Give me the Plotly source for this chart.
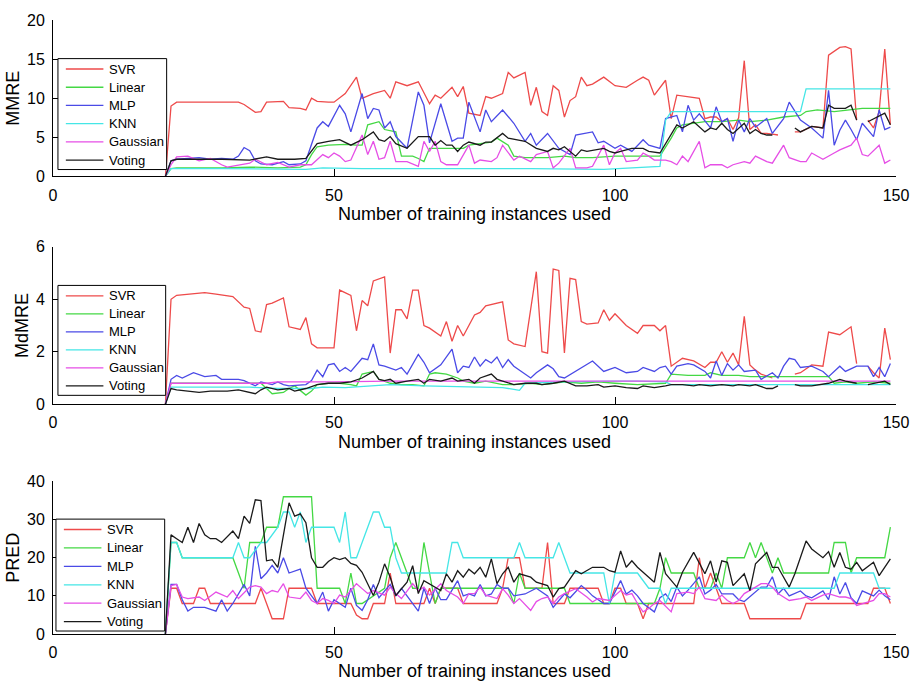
import plotly.graph_objects as go

SERIES = ["SVR", "Linear", "MLP", "KNN", "Gaussian", "Voting"]
COLORS = ["#ee4a4a", "#44d844", "#4a4ae6", "#45e6e6", "#e64ee6", "#1a1a1a"]
X_TICKS = [0, 50, 100, 150]
MMRE_TICKS = [0, 5, 10, 15, 20]
MDMRE_TICKS = [0, 2, 4, 6]
PRED_TICKS = [0, 10, 20, 30, 40]
X_TITLE = "Number of training instances used"

# ---------- MMRE (x, value) ----------
MMRE_SVR = [(20,0),(21,9.0),(22,9.5),(33,9.5),(34,9.2),(36,8.2),(37,8.3),(38,9.5),(41,9.6),(42,8.8),(44,8.7),(45,8.5),(46,10.0),(47,9.6),(49,9.5),(50,9.5),(52,10.6),(54,12.7),(55,10.0),(57,10.6),(59,11.0),(60,10.0),(61,12.1),(63,11.6),(65,12.1),(67,9.3),(68,10.4),(69,10.0),(71,11.4),(72,10.2),(73,11.5),(74,8.1),(76,7.8),(77,10.2),(78,10.0),(80,10.6),(81,13.3),(82,12.6),(84,13.3),(85,9.1),(86,11.4),(87,8.3),(88,7.8),(89,11.6),(90,11.0),(91,7.6),(92,9.7),(93,10.2),(94,12.7),(95,11.6),(96,11.8),(98,12.7),(100,11.6),(102,11.4),(104,12.3),(105,12.7),(106,12.3),(107,10.4),(109,12.3),(110,7.4),(111,10.4),(113,10.2),(115,10.0),(116,7.4),(117,7.6),(118,7.6),(119,7.0),(120,7.4),(121,6.0),(122,7.5),(123,14.8),(124,6.0),(125,6.6),(126,5.5),(127,5.5),(128,5.4),(129,5.3),(130,None),(132,5.7),(133,5.7),(135,6.4),(137,6.2),(138,15.5),(140,16.5),(141,16.6),(142,16.3),(143,7.2),(144,None),(145,7.2),(146,6.2),(147,8.3),(148,16.3),(149,6.6)]
MMRE_LINEAR = [(20,0),(21,1.0),(22,1.1),(30,1.1),(35,1.2),(40,1.1),(44,1.2),(45,1.5),(46,2.8),(47,3.8),(49,4.0),(52,4.1),(54,4.0),(55,4.0),(56,6.6),(58,7.0),(59,6.0),(61,5.7),(62,2.6),(64,2.6),(65,2.3),(66,1.9),(67,3.6),(70,3.6),(73,3.6),(74,4.0),(76,4.2),(78,4.4),(79,4.9),(81,4.0),(82,2.6),(84,2.4),(88,2.4),(91,2.6),(93,2.4),(96,2.4),(100,2.6),(105,2.6),(108,2.6),(110,4.9),(111,6.2),(112,6.6),(116,7.0),(119,7.0),(122,7.2),(124,7.0),(127,7.2),(130,7.6),(133,7.8),(134,8.3),(136,8.5),(139,8.3),(142,8.5),(144,8.7),(149,8.7)]
MMRE_MLP = [(20,0),(21,2.0),(22,2.2),(24,2.3),(26,2.4),(28,2.2),(30,2.3),(32,2.2),(33,2.6),(34,3.7),(35,3.3),(36,2.0),(37,1.6),(39,1.5),(41,1.9),(42,1.5),(44,1.6),(45,2.0),(46,4.0),(47,6.2),(48,7.0),(49,6.4),(51,9.1),(52,8.0),(53,5.7),(55,10.6),(56,7.4),(57,8.7),(58,8.5),(59,6.2),(60,7.0),(61,5.1),(63,3.6),(65,10.8),(66,9.1),(67,4.3),(69,9.3),(71,4.5),(72,4.9),(73,4.9),(74,9.5),(76,5.7),(77,8.5),(78,7.0),(80,8.5),(82,6.8),(84,4.5),(85,5.5),(86,4.0),(88,5.5),(90,3.6),(92,2.8),(93,5.3),(96,5.7),(97,4.3),(98,4.5),(100,3.6),(101,4.0),(103,3.2),(105,4.7),(106,4.0),(107,3.8),(108,3.6),(109,7.4),(111,7.8),(112,5.7),(113,9.1),(114,7.2),(115,8.0),(117,6.2),(118,8.9),(119,7.0),(120,7.4),(121,4.5),(122,7.2),(123,5.7),(124,7.4),(125,6.3),(127,7.4),(128,5.5),(130,7.4),(131,9.5),(133,7.2),(135,6.2),(137,4.9),(138,11.0),(139,4.0),(140,5.9),(141,7.2),(142,6.0),(143,4.7),(144,6.8),(146,5.1),(147,8.5),(148,6.0),(149,6.3)]
MMRE_KNN = [(20,0),(21,1.0),(30,1.0),(40,0.9),(45,0.9),(48,1.1),(55,1.0),(70,1.0),(85,1.0),(98,0.9),(104,1.1),(108,1.3),(109,7.2),(110,8.3),(133,8.3),(134,11.2),(149,11.2)]
MMRE_GAUSSIAN = [(20,0),(21,1.5),(22,2.5),(24,2.6),(26,2.0),(28,2.3),(30,1.5),(31,1.2),(35,1.7),(36,2.2),(38,1.5),(40,1.8),(42,1.2),(44,1.5),(46,1.5),(47,2.2),(48,2.8),(49,2.4),(50,3.0),(51,2.6),(52,1.9),(53,2.1),(55,5.3),(56,2.8),(57,4.5),(58,2.2),(59,2.4),(60,4.5),(61,1.9),(63,1.9),(65,1.3),(66,4.5),(67,3.2),(68,4.5),(69,1.9),(70,1.5),(72,1.5),(74,4.0),(75,1.7),(76,2.1),(78,1.9),(79,2.4),(80,4.0),(82,2.1),(83,2.6),(85,1.9),(86,2.8),(88,3.2),(89,1.1),(90,1.7),(92,3.6),(93,1.1),(95,1.1),(96,1.3),(98,4.0),(99,1.5),(100,3.0),(101,3.6),(102,1.9),(104,2.1),(105,3.0),(106,2.6),(107,2.1),(109,2.1),(110,1.9),(111,1.5),(112,2.6),(113,1.9),(115,4.5),(116,1.1),(117,1.5),(119,1.5),(120,1.1),(121,1.5),(123,1.9),(124,1.7),(125,2.6),(127,1.9),(128,1.7),(130,4.0),(131,2.4),(133,1.9),(134,1.9),(135,3.0),(137,2.2),(139,3.0),(140,3.4),(142,4.0),(143,4.9),(144,2.8),(145,2.6),(147,4.0),(148,1.7),(149,2.1)]
MMRE_VOTING = [(20,0),(21,2.0),(22,2.2),(30,2.2),(35,2.1),(38,2.5),(40,2.2),(43,2.2),(45,2.3),(46,3.3),(47,4.2),(49,4.5),(51,4.7),(53,4.0),(55,4.7),(57,5.7),(58,4.7),(59,4.5),(60,5.1),(61,4.2),(63,3.6),(65,5.1),(67,5.1),(68,4.0),(69,4.6),(70,4.0),(71,4.0),(72,3.2),(73,4.0),(74,4.4),(76,4.0),(77,4.4),(78,4.4),(80,5.5),(81,4.9),(84,4.5),(85,4.0),(86,3.6),(88,3.2),(89,3.6),(90,3.4),(91,3.8),(93,2.6),(94,3.4),(95,3.2),(98,3.6),(99,3.2),(100,3.0),(101,3.2),(103,3.6),(105,3.6),(106,3.2),(108,3.0),(111,6.6),(112,6.2),(114,7.0),(116,5.7),(117,6.2),(118,6.0),(119,6.8),(120,6.0),(121,5.5),(123,6.8),(124,5.5),(125,6.0),(126,5.5),(127,5.3),(128,5.3),(129,None),(132,6.2),(133,5.7),(135,6.4),(137,6.2),(138,9.1),(139,8.7),(140,8.7),(141,8.7),(142,9.1),(143,7.2),(144,None),(145,7.0),(146,7.4),(147,7.8),(148,8.1),(149,6.6)]

# ---------- MdMRE (x, value) ----------
MDMRE_SVR = [(20,0),(21,4.0),(22,4.15),(24,4.2),(27,4.25),(29,4.2),(32,4.1),(34,3.7),(35,3.65),(36,2.8),(37,2.75),(38,3.8),(39,3.85),(41,4.05),(42,2.95),(44,2.85),(45,3.3),(46,2.3),(47,2.15),(50,2.15),(51,4.35),(53,4.15),(54,2.8),(55,3.95),(56,3.75),(57,4.7),(59,4.85),(60,1.95),(61,3.6),(62,3.6),(63,3.25),(64,4.35),(65,4.35),(66,3.0),(67,2.9),(69,2.6),(70,3.15),(71,2.4),(72,3.0),(73,2.6),(75,3.4),(76,3.5),(77,3.75),(80,3.9),(81,2.45),(82,2.3),(84,2.2),(86,5.05),(87,2.0),(88,1.95),(89,5.15),(90,5.1),(91,1.95),(92,4.8),(93,4.75),(94,3.15),(95,3.05),(97,3.1),(98,3.6),(99,3.2),(100,3.45),(102,3.0),(104,2.7),(105,3.0),(107,3.0),(108,2.8),(109,3.0),(110,1.45),(112,1.75),(114,1.65),(116,1.4),(117,1.6),(118,1.6),(119,2.0),(120,1.6),(121,1.95),(122,1.5),(123,3.35),(124,1.5),(125,1.3),(126,1.15),(128,1.0),(130,None),(132,1.15),(133,1.2),(135,1.5),(137,1.45),(138,2.75),(140,2.65),(142,2.95),(143,1.55),(144,None),(145,1.45),(146,1.2),(147,1.0),(148,2.9),(149,1.7)]
MDMRE_LINEAR = [(20,0),(21,0.8),(30,0.8),(37,0.8),(38,0.6),(39,0.4),(41,0.45),(42,0.6),(43,0.7),(45,0.35),(46,0.5),(47,0.75),(49,0.8),(51,0.8),(53,0.75),(54,0.7),(55,1.15),(57,1.25),(58,0.95),(60,0.8),(62,0.75),(64,0.75),(66,0.7),(67,1.15),(68,1.2),(70,1.15),(72,1.0),(73,0.88),(75,0.8),(77,0.88),(80,0.75),(82,0.75),(85,0.8),(87,0.75),(89,0.8),(91,0.85),(94,0.8),(97,0.85),(100,0.8),(104,0.75),(109,0.8),(110,1.15),(113,1.1),(116,1.1),(117,1.2),(119,1.1),(122,1.1),(124,1.05),(127,1.05),(130,1.05),(134,1.05),(138,1.05),(139,0.8),(141,0.85),(143,0.8),(146,0.85),(149,0.8)]
MDMRE_MLP = [(20,0),(21,0.95),(22,1.1),(23,1.0),(25,1.2),(27,1.05),(29,1.1),(30,0.95),(33,0.95),(34,0.9),(36,0.7),(37,0.85),(39,0.75),(40,0.85),(41,0.75),(42,0.7),(45,0.75),(46,0.9),(47,1.3),(48,1.05),(49,1.5),(50,1.55),(51,1.25),(52,1.4),(53,1.25),(55,1.75),(56,1.7),(57,2.3),(58,1.5),(59,1.45),(61,1.3),(62,1.4),(63,1.15),(65,1.9),(66,1.6),(67,1.2),(69,1.5),(71,2.1),(72,1.2),(73,1.45),(74,1.4),(75,1.8),(76,1.45),(77,1.7),(78,1.57),(79,1.8),(80,1.4),(81,1.7),(82,1.45),(85,1.0),(86,1.2),(88,1.5),(89,1.35),(90,1.05),(91,1.0),(93,1.25),(94,1.4),(96,1.65),(98,1.25),(100,1.4),(102,1.2),(104,1.25),(105,1.4),(107,1.25),(108,1.4),(109,1.45),(110,1.15),(111,1.45),(113,1.55),(114,1.5),(116,1.25),(117,1.0),(118,1.65),(119,1.1),(120,1.55),(121,1.3),(122,1.5),(123,1.25),(125,1.3),(126,0.95),(128,1.2),(129,1.0),(130,1.45),(131,1.75),(132,1.7),(133,1.4),(135,1.45),(137,1.25),(138,1.05),(140,1.45),(141,1.25),(143,1.45),(145,1.45),(146,1.05),(147,1.4),(148,1.05),(149,1.55)]
MDMRE_KNN = [(20,0),(21,0.65),(35,0.65),(40,0.6),(46,0.6),(48,0.65),(52,0.63),(56,0.7),(60,0.75),(66,0.7),(70,0.68),(75,0.63),(80,0.63),(82,0.57),(83,0.53),(84,0.8),(90,0.85),(100,0.88),(104,0.88),(109,0.85),(110,0.75),(120,0.75),(130,0.75),(140,0.75),(149,0.75)]
MDMRE_GAUSSIAN = [(20,0),(21,0.8),(30,0.8),(38,0.8),(40,0.85),(50,0.85),(60,0.88),(70,0.88),(80,0.88),(90,0.88),(100,0.88),(110,0.9),(120,0.88),(130,0.88),(140,0.88),(149,0.88)]
MDMRE_VOTING = [(20,0),(21,0.6),(22,0.55),(24,0.5),(26,0.45),(28,0.5),(31,0.5),(33,0.55),(34,0.5),(36,0.4),(37,0.55),(38,0.65),(40,0.55),(42,0.6),(43,0.5),(45,0.6),(47,0.75),(49,0.8),(51,0.8),(53,0.85),(55,1.0),(57,1.25),(58,0.95),(59,0.9),(60,0.95),(61,0.8),(63,0.88),(65,0.95),(66,0.8),(67,0.95),(69,0.88),(71,1.0),(72,0.88),(74,0.95),(75,0.8),(76,1.0),(78,1.15),(79,0.95),(80,0.88),(82,0.75),(84,0.8),(86,0.8),(87,0.75),(89,0.8),(91,0.88),(93,0.7),(95,0.7),(97,0.75),(98,0.65),(100,0.7),(102,0.63),(104,0.6),(105,0.7),(107,0.63),(109,0.7),(110,0.75),(112,0.75),(114,0.7),(115,0.75),(117,0.7),(119,0.75),(121,0.7),(122,0.75),(124,0.7),(125,0.75),(127,0.6),(128,0.6),(129,0.7),(130,None),(132,0.75),(133,0.7),(135,0.7),(137,0.75),(138,0.8),(140,0.95),(141,0.88),(143,0.8),(144,None),(145,0.75),(146,0.8),(148,0.88),(149,0.75)]

# ---------- PRED (x, value) ----------
PRED_SVR = [(20,0),(21,12),(22,12),(23,8),(25,8),(26,12),(27,12),(28,8),(36,8),(37,12),(38,8),(39,4),(41,4),(42,12),(46,12),(47,8),(53,8),(54,5),(55,4),(56,4),(57,8),(59,8),(60,16),(61,8),(66,8),(67,12),(68,8),(69,12),(72,12),(73,8),(79,8),(80,12),(81,20),(83,20),(84,12),(87,12),(88,24),(89,8),(91,8),(92,12),(97,12),(98,8),(99,8),(100,12),(101,12),(102,8),(104,8),(105,4),(106,8),(114,8),(115,20),(116,12),(117,16),(118,12),(119,8),(123,8),(124,4),(133,4),(134,8),(145,8),(146,12),(148,12),(149,8)]
PRED_LINEAR = [(20,0),(21,24),(22,24),(23,20),(32,20),(34,12),(35,24),(37,24),(38,28),(40,28),(41,36),(46,36),(47,12),(51,12),(52,8),(53,16),(54,8),(55,8),(59,12),(60,20),(61,24),(62,20),(64,12),(65,12),(66,24),(67,16),(68,8),(69,12),(81,12),(82,8),(83,16),(84,12),(91,12),(92,8),(107,8),(108,12),(109,20),(110,16),(114,16),(115,12),(117,12),(118,16),(119,12),(120,20),(123,20),(124,24),(125,20),(126,24),(127,20),(128,16),(129,20),(130,16),(138,16),(139,24),(141,24),(142,16),(143,20),(148,20),(149,28)]
PRED_MLP = [(20,0),(21,13),(22,13),(23,9),(24,6),(25,7),(27,7),(29,6),(30,9),(31,6),(32,8),(34,13),(35,10),(36,23),(37,14.5),(38,16),(39,18),(40,16),(41,20),(42,16),(44,17),(45,12),(46,10),(47,8),(48,11),(49,6),(50,9),(51,8),(52,7),(53,12),(54,7.5),(55,6.2),(56,9),(57,13),(58,9.5),(60,13),(61,10),(62,12),(63,10),(65,6),(66,12),(67,8),(68,12),(69,9),(70,9),(72,14),(73,10),(74,10.5),(75,10),(76,13),(77,10),(78,10.5),(79,13),(80,12),(81,12),(82,10),(84,10.5),(86,12),(88,10),(89,7),(91,10.5),(92,9.5),(94,12.7),(95,11.5),(96,10),(98,8),(99,8),(101,14),(102,10.5),(103,11.5),(104,10),(105,8),(107,5.8),(108,9.5),(109,10.5),(110,8.5),(111,12.3),(112,10),(113,11.5),(115,15),(116,10.5),(117,11.5),(118,13),(119,10.5),(121,10.5),(122,9),(123,8.5),(125,11),(126,12.3),(127,12.3),(128,15),(129,10.5),(130,12),(131,10),(133,11.3),(134,10),(135,9.5),(137,11.3),(138,9),(139,15),(140,10.5),(141,13.5),(142,9.5),(143,8),(144,11.3),(146,10),(147,11.5),(148,10),(149,9)]
PRED_KNN = [(20,0),(21,24),(22,24),(23,20),(32,20),(33,24),(34,20),(35,20),(37,24),(38,24),(40,28),(41,32),(42,32),(43,28),(44,32),(45,24),(46,28),(50,28),(51,24),(52,32),(53,20),(54,20),(55,24),(56,28),(57,32),(58,32),(59,28),(60,28),(61,20),(62,16),(70,16),(71,24),(72,24),(73,20),(82,20),(83,24),(84,20),(89,20),(90,24),(92,16),(98,16),(99,8),(100,16),(104,16),(106,12),(108,12),(109,8),(110,12),(139,12),(140,16),(146,16),(147,12),(149,12)]
PRED_GAUSSIAN = [(20,0),(21,12.7),(22,13),(23,9.7),(24,9.3),(26,9.7),(27,8.8),(29,11),(31,9.7),(32,11.4),(33,9.3),(35,12.3),(36,12.7),(37,12.3),(38,10.6),(39,11.4),(40,11),(41,13.2),(42,9.7),(44,9.3),(45,11),(46,8.8),(47,8),(48,9.3),(49,8.8),(50,8),(51,10.2),(52,9.7),(53,11.4),(54,13.2),(55,11.9),(56,10.6),(57,11.4),(59,10.2),(60,12.3),(61,10.6),(62,9.3),(64,13.2),(65,11.4),(66,12.3),(67,10.2),(69,13.2),(70,11.4),(72,9.7),(73,8),(74,10.6),(75,10.6),(76,12.3),(77,10.2),(79,9.3),(80,11.9),(81,10.2),(82,8),(83,9.3),(85,6.2),(86,8.5),(87,9.3),(88,9.7),(89,8),(90,9.7),(91,10.6),(93,11.9),(95,9.7),(96,8.4),(97,9.3),(99,8.8),(101,11.4),(102,10.2),(103,10.6),(104,8),(105,5.8),(106,6.7),(107,8),(108,8.8),(110,5.8),(111,10.6),(113,11),(114,10.6),(115,12.3),(116,9.3),(118,8.8),(119,10.2),(120,8.8),(121,8),(122,8.8),(123,10.6),(125,12.3),(126,13.2),(127,13.2),(128,12.3),(129,10.6),(131,8.8),(133,9.3),(134,9.7),(135,8.8),(137,10.2),(138,10.6),(139,10.2),(140,9.7),(141,9.7),(142,9.3),(143,7.5),(145,8.4),(146,8.8),(147,10.6),(148,10.6),(149,9.7)]
PRED_VOTING = [(20,0),(21,26),(22,25),(23,24),(24,28),(25,24),(26,29),(27,26),(28,25),(29,25),(30,24),(31,25.5),(32,27),(33,25),(34,30.9),(35,29),(36,35.2),(37,35),(38,19.2),(39,19.5),(40,17.5),(42,34.4),(43,30.9),(44,31.5),(45,29.2),(46,20),(47,17.5),(48,17.5),(49,19),(50,20),(51,19.5),(52,20),(53,18.5),(54,18),(55,16.2),(57,10.1),(58,13.6),(59,18.4),(60,14.9),(61,10.1),(63,13.6),(64,17.9),(65,10.6),(66,14),(67,13.2),(69,11.4),(70,15.8),(71,13.6),(72,16.6),(73,14.9),(74,17),(75,15.8),(76,17.5),(77,14.9),(78,19.7),(79,13.2),(80,15.8),(81,17.5),(82,13.6),(83,15.8),(85,14.9),(86,13.6),(88,12.7),(89,9.7),(90,11.9),(91,12.3),(93,16.6),(94,15.8),(96,17.5),(98,17.5),(99,16.6),(100,16.2),(101,21.8),(102,17.5),(103,19.2),(104,17.5),(105,16.2),(107,13.6),(108,21.4),(109,15.8),(111,12.3),(112,16.2),(114,21.4),(116,15.8),(117,19.2),(118,13.6),(119,19.2),(120,18.8),(121,12.7),(123,15.8),(124,11.4),(125,18.4),(127,21.4),(128,17.5),(129,17.5),(131,12.3),(132,15.8),(134,24.4),(135,22.3),(137,20),(138,21.6),(139,17.5),(140,21.4),(141,17.5),(142,17),(143,18.8),(144,16.6),(146,18.8),(147,15.3),(149,19.7)]

PANELS = [
    ("MMRE", [MMRE_SVR, MMRE_LINEAR, MMRE_MLP, MMRE_KNN, MMRE_GAUSSIAN, MMRE_VOTING], [0, 20], MMRE_TICKS),
    ("MdMRE", [MDMRE_SVR, MDMRE_LINEAR, MDMRE_MLP, MDMRE_KNN, MDMRE_GAUSSIAN, MDMRE_VOTING], [0, 6], MDMRE_TICKS),
    ("PRED", [PRED_SVR, PRED_LINEAR, PRED_MLP, PRED_KNN, PRED_GAUSSIAN, PRED_VOTING], [0, 40], PRED_TICKS),
]

W, H = 921, 692
ML, MR, MT, MB = 52, 16, 14, 58
PH = H - MT - MB
PW = W - ML - MR
# panel pixel extents (top, bottom) in page pixels
PANEL_PX = [(14, 172), (243, 402), (480, 634)]
# legend boxes (left, top, right, bottom) in page pixels
LEGEND_BOX = [(57, 53, 167, 165), (57, 282, 166, 393), (55, 518, 165, 631)]

FONT = "Arial, Liberation Sans, sans-serif"

def fy(py):
    return (H - MB - py) / PH

def fx(px):
    return (px - ML) / PW

fig = go.Figure()
shapes = []
annotations = []
layout = dict(
    width=W, height=H,
    margin=dict(l=ML, r=MR, t=MT, b=MB),
    paper_bgcolor="white", plot_bgcolor="white",
    font=dict(family=FONT, color="black"),
    showlegend=False,
)

for i, (name, series, yr, yt) in enumerate(PANELS):
    k = "" if i == 0 else str(i + 1)
    for s, data, col in zip(SERIES, series, COLORS):
        xs = [p[0] for p in data]
        ys = [p[1] for p in data]
        fig.add_trace(go.Scatter(
            x=xs, y=ys, mode="lines", name=s,
            line=dict(color=col, width=1.3),
            xaxis="x" + k, yaxis="y" + k,
            connectgaps=False, showlegend=False,
        ))
    top, bot = PANEL_PX[i]
    layout["xaxis" + k] = dict(
        domain=[0, 1], range=[0, 150], tickvals=X_TICKS, anchor="y" + k,
        ticks="inside", ticklen=7, tickcolor="black", showline=True,
        linecolor="black", linewidth=1, showgrid=False, zeroline=False,
        tickfont=dict(size=16), ticklabelstandoff=4,
        title=dict(text=X_TITLE, font=dict(size=18), standoff=4),
    )
    layout["yaxis" + k] = dict(
        domain=[fy(bot), fy(top)], range=yr, tickvals=yt, anchor="x" + k,
        ticks="inside", ticklen=7, tickcolor="black", showline=True,
        linecolor="black", linewidth=1, showgrid=False, zeroline=False,
        tickfont=dict(size=16), ticklabelstandoff=4,
        title=dict(text=name, font=dict(size=18), standoff=2),
    )
    # legend box drawn as shapes + text annotations
    l, t, r, b = LEGEND_BOX[i]
    shapes.append(dict(type="rect", xref="paper", yref="paper",
                       x0=fx(l), x1=fx(r), y0=fy(b), y1=fy(t),
                       fillcolor="white", line=dict(color="black", width=1),
                       layer="above"))
    step = (b - t - 20) / (len(SERIES) - 1)
    for j, (s, col) in enumerate(zip(SERIES, COLORS)):
        py = t + 10.5 + j * step
        shapes.append(dict(type="line", xref="paper", yref="paper",
                           x0=fx(l + 8), x1=fx(l + 46), y0=fy(py), y1=fy(py),
                           line=dict(color=col, width=1.3), layer="above"))
        annotations.append(dict(text=s, xref="paper", yref="paper",
                                x=fx(l + 50), y=fy(py), xanchor="left",
                                yanchor="middle", showarrow=False,
                                font=dict(size=13, family=FONT, color="black")))

layout["shapes"] = shapes
layout["annotations"] = annotations
fig.update_layout(**layout)
fig.write_html("out.html")
